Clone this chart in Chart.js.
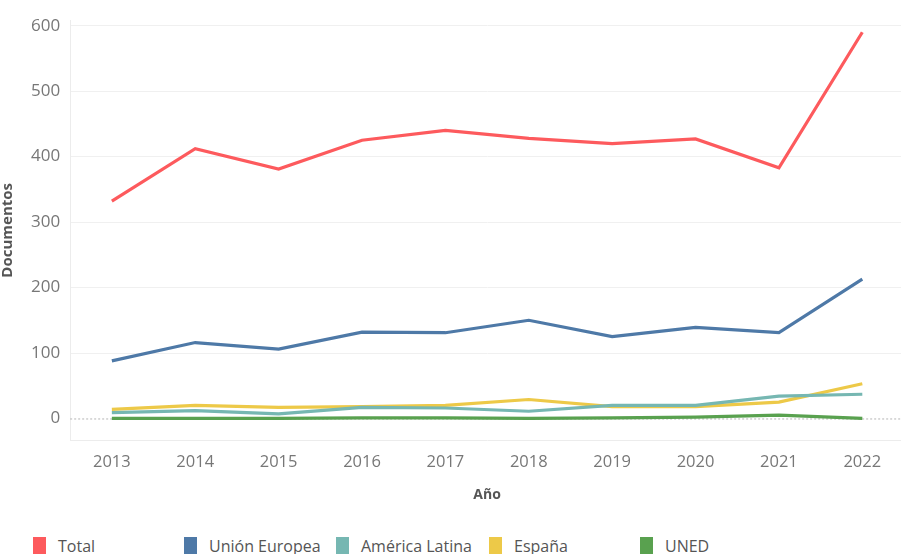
<!DOCTYPE html>
<html>
<head>
<meta charset="utf-8">
<script src="https://cdn.jsdelivr.net/npm/chart.js@4/dist/chart.umd.min.js"></script>
<style>
  body { margin: 0; background: #fff; overflow: hidden; }
  #wrap { position: relative; width: 901px; height: 554px; overflow: hidden; }
  #box { position: absolute; left: -5px; top: 0; width: 909px; height: 507px; }
  #legend { position: absolute; left: 0; top: 537px; width: 901px; height: 20px; font-family: "Open Sans", sans-serif; font-size: 16px; color: #555; }
  .item { position: absolute; top: 0; display: flex; align-items: flex-start; }
  .sw { width: 13px; height: 17px; margin-right: 12px; }
  .item span { line-height: 18px; }
</style>
</head>
<body>
<div id="wrap">
  <div id="box"><canvas id="myChart"></canvas></div>
  <div id="legend"></div>
</div>
<script>
const years = ["2013", "2014", "2015", "2016", "2017", "2018", "2019", "2020", "2021", "2022"];
const yTicks = [0, 100, 200, 300, 400, 500, 600];

const total = [332, 412, 381, 425, 440, 428, 420, 427, 383, 590];
const unionEuropea = [88, 116, 106, 132, 131, 150, 125, 139, 131, 213];
const americaLatina = [9, 12, 7, 17, 16, 11, 20, 20, 34, 37];
const espana = [14, 20, 17, 18, 20, 29, 18, 18, 25, 53];
const uned = [0, 0, 0, 1, 1, 0, 1, 2, 5, 0];

const names = ["Total", "Unión Europea", "América Latina", "España", "UNED"];
const colors = ["#fd5a5d", "#4e79a7", "#76b7b2", "#edc948", "#59a14f"];
const legendX = [33, 184, 336, 489, 640];

// dotted zero line, drawn under the series
const zeroLine = {
  id: 'zeroLine',
  beforeDatasetsDraw(chart) {
    const ctx = chart.ctx;
    const y = chart.scales.y.getPixelForValue(0);
    const area = chart.chartArea;
    ctx.save();
    ctx.strokeStyle = '#b5b5b5';
    ctx.lineWidth = 1;
    ctx.setLineDash([2, 2]);
    ctx.beginPath();
    ctx.moveTo(area.left, y + 0.5);
    ctx.lineTo(area.right, y + 0.5);
    ctx.stroke();
    ctx.restore();
  }
};

const seriesData = [total, unionEuropea, americaLatina, espana, uned];
const datasets = seriesData.map((d, i) => ({
  label: names[i],
  data: d,
  borderColor: colors[i],
  backgroundColor: colors[i],
  borderWidth: 3.2,
  pointRadius: 0,
  tension: 0,
  fill: false,
  order: i
}));

new Chart("myChart", {
  type: "line",
  data: { labels: years, datasets: datasets },
  options: {
    responsive: true,
    maintainAspectRatio: false,
    animation: false,
    layout: { padding: 0 },
    plugins: {
      legend: { display: false },
      tooltip: { enabled: false }
    },
    scales: {
      x: {
        offset: true,
        grid: { display: false },
        border: { color: '#ececec' },
        ticks: { color: '#777', font: { family: 'Open Sans', size: 16.5 }, padding: 4, maxRotation: 0 },
        title: { display: true, text: 'Año', color: '#555', font: { family: 'Open Sans', size: 14, weight: 'bold' }, padding: { top: 10 } }
      },
      y: {
        min: -33.5,
        max: 608.4,
        afterBuildTicks(scale) { scale.ticks = yTicks.map(v => ({ value: v })); },
        grid: { color: ctx => ctx.tick && ctx.tick.value === 0 ? 'rgba(0,0,0,0)' : '#f0f0f0', drawTicks: false },
        border: { color: '#ececec' },
        ticks: { color: '#777', font: { family: 'Open Sans', size: 17 }, padding: 10 },
        title: { display: true, text: 'Documentos', color: '#555', font: { family: 'Open Sans', size: 15, weight: 'bold' }, padding: { bottom: 4 } }
      }
    }
  },
  plugins: [zeroLine]
});

const legend = document.getElementById('legend');
names.forEach((n, i) => {
  const item = document.createElement('div');
  item.className = 'item';
  item.style.left = legendX[i] + 'px';
  item.innerHTML = '<div class="sw" style="background:' + colors[i] + '"></div><span>' + n + '</span>';
  legend.appendChild(item);
});
</script>
</body>
</html>
